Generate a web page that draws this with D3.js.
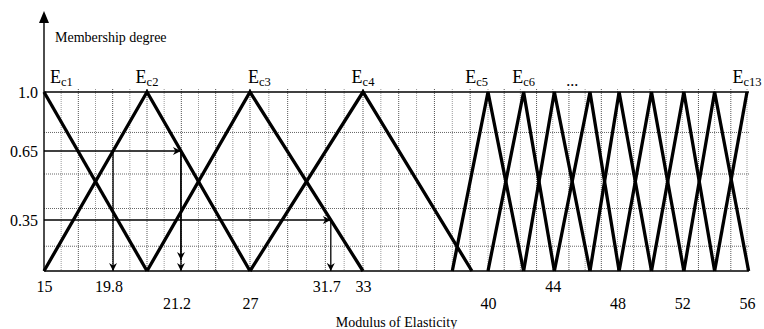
<!DOCTYPE html>
<html>
<head>
<meta charset="utf-8">
<script src="https://cdn.jsdelivr.net/npm/d3@7"></script>
<style>
  body { margin: 0; background: #fff; }
</style>
</head>
<body>
<svg></svg>
<script>
const width = 764;
const height = 329;
const serif = 'Liberation Serif, Times New Roman, Times, serif';

// membership functions E_c1 .. E_c13 (peak and feet, modulus values)
const names = ['c1', 'c2', 'c3', 'c4', 'c5', 'c6', 'c7', 'c8', 'c9', 'c10', 'c11', 'c12', 'c13'];
const peaks = [15, 21, 27, 33, 40, 42.2, 44.1, 46.3, 48.1, 50.1, 52.1, 54, 56];
const leftFeet = [null, 15, 21, 27, 38, 40, 42.2, 44.1, 46.3, 48.1, 50.1, 52.1, 54];
const rightFeet = [21, 27, 33, 39.1, 42.2, 44.1, 46.3, 48.1, 50.1, 52.1, 54, 56.1, null];
const shownNames = ['c1', 'c2', 'c3', 'c4', 'c5', 'c6', 'c13'];

const xTicksTop = [15, 33, 44];
const xTicksBottom = [27, 40, 48, 52, 56];
const yTicks = [1.0, 0.65, 0.35];
const gridLevels = [0.17, 0.4, 0.55, 0.76];
const gridValues = d3.range(16, 57);

// reading arrows: membership level, function index, edge that is hit
const readings = [
  {level: 0.65, fn: 1, edge: 'up', label: '19.8', row: 0, heads: 1},
  {level: 0.65, fn: 1, edge: 'down', label: '21.2', row: 1, heads: 2},
  {level: 0.35, fn: 2, edge: 'down', label: '31.7', row: 0, heads: 1}
];

// schematic axes, not evenly spaced in the original
const x = d3.scaleLinear()
  .domain([15, 21, 27, 33, 40, 56])
  .range([44, 147, 250, 363, 488, 747]);

const y = d3.scaleLinear()
  .domain([0, 0.35, 0.65, 1])
  .range([271, 220, 151, 92]);

const right = x(56) + 2;

const labelLayout = {c1: ['start', 6], c3: ['start', -2], c5: ['end', 0]};

const svg = d3.select('svg')
  .attr('width', width)
  .attr('height', height)
  .attr('font-family', serif)
  .style('font-family', serif);

const defs = svg.append('defs');
defs.append('marker')
  .attr('id', 'head')
  .attr('viewBox', '0 0 10 10')
  .attr('refX', 10)
  .attr('refY', 5)
  .attr('markerWidth', 9)
  .attr('markerHeight', 8)
  .attr('markerUnits', 'userSpaceOnUse')
  .attr('orient', 'auto')
  .append('path')
  .attr('d', 'M0,0L10,5L0,10L3,5Z')
  .attr('fill', '#000');

// grid
svg.append('g')
  .selectAll('line')
  .data(gridValues)
  .enter()
  .append('line')
  .attr('x1', d => x(d))
  .attr('x2', d => x(d))
  .attr('y1', y(1) - 3)
  .attr('y2', y(0))
  .attr('stroke', (d, i) => i % 2 ? '#555' : '#999')
  .attr('stroke-width', 1)
  .attr('stroke-dasharray', '1,1');

svg.append('g')
  .selectAll('line')
  .data(gridLevels)
  .enter()
  .append('line')
  .attr('x1', x(15))
  .attr('x2', right)
  .attr('y1', d => y(d))
  .attr('y2', d => y(d))
  .attr('stroke', '#666')
  .attr('stroke-width', 1)
  .attr('stroke-dasharray', '1,1');

// top and bottom frame lines
svg.append('g')
  .selectAll('line')
  .data([0, 1])
  .enter()
  .append('line')
  .attr('x1', x(15))
  .attr('x2', right)
  .attr('y1', d => y(d))
  .attr('y2', d => y(d))
  .attr('stroke', '#000')
  .attr('stroke-width', 1.6);

// y axis with arrow
svg.append('line')
  .attr('x1', x(15)).attr('x2', x(15))
  .attr('y1', y(0)).attr('y2', 20)
  .attr('stroke', '#000')
  .attr('stroke-width', 1.4);
svg.append('path')
  .attr('d', `M${x(15)},11L${x(15) + 5},23L${x(15) - 5},23Z`)
  .attr('fill', '#000');

// triangles
const line = d3.line()
  .x(d => x(d[0]))
  .y(d => y(d[1]));

const shapes = peaks.map((p, i) => {
  const pts = [];
  if (leftFeet[i] != null) pts.push([leftFeet[i], 0]);
  pts.push([p, 1]);
  if (rightFeet[i] != null) pts.push([rightFeet[i], 0]);
  return pts;
});

svg.append('g')
  .selectAll('path')
  .data(shapes)
  .enter()
  .append('path')
  .attr('d', line)
  .attr('fill', 'none')
  .attr('stroke', '#000')
  .attr('stroke-width', 3.3);

// reading arrows
function crossing(r) {
  const i = r.fn;
  const a = r.edge === 'up' ? [leftFeet[i], 0] : [peaks[i], 1];
  const b = r.edge === 'up' ? [peaks[i], 1] : [rightFeet[i], 0];
  const t = (y(r.level) - y(a[1])) / (y(b[1]) - y(a[1]));
  return x(a[0]) + (x(b[0]) - x(a[0])) * t;
}
readings.forEach(r => r.px = crossing(r));

const levels = Array.from(d3.group(readings, r => r.level), ([level, rs]) => ({level, end: d3.max(rs, r => r.px)}));

const arrows = svg.append('g')
  .attr('stroke', '#000')
  .attr('stroke-width', 1.3);

arrows.selectAll('line.h')
  .data(levels)
  .enter()
  .append('line')
  .attr('class', 'h')
  .attr('x1', x(15))
  .attr('x2', d => d.end)
  .attr('y1', d => y(d.level))
  .attr('y2', d => y(d.level))
  .attr('marker-end', 'url(#head)');

arrows.selectAll('line.v')
  .data(readings)
  .enter()
  .append('line')
  .attr('class', 'v')
  .attr('x1', d => d.px)
  .attr('x2', d => d.px)
  .attr('y1', d => y(d.level))
  .attr('y2', y(0))
  .attr('marker-end', 'url(#head)');

arrows.selectAll('line.v2')
  .data(readings.filter(d => d.heads > 1))
  .enter()
  .append('line')
  .attr('class', 'v2')
  .attr('x1', d => d.px)
  .attr('x2', d => d.px)
  .attr('y1', d => y(d.level))
  .attr('y2', y(0) - 11)
  .attr('marker-end', 'url(#head)');

// x tick labels, two rows
const rowPad = [10, 27];

[xTicksTop, xTicksBottom].forEach((ticks, row) => {
  svg.append('g')
    .attr('transform', `translate(0,${y(0)})`)
    .call(d3.axisBottom(x).tickValues(ticks).tickSize(0).tickPadding(rowPad[row]).tickFormat(d3.format('d')))
    .attr('font-family', serif)
    .attr('font-size', 16)
    .call(g => g.select('.domain').remove());
});

svg.append('g')
  .selectAll('text')
  .data(readings)
  .enter()
  .append('text')
  .attr('x', d => d.px - 4)
  .attr('y', d => y(0) + rowPad[d.row] + 11.3)
  .attr('text-anchor', 'middle')
  .attr('font-size', 16)
  .text(d => d.label);

// y tick labels
svg.append('g')
  .attr('transform', `translate(${x(15)},0)`)
  .call(d3.axisLeft(y).tickValues(yTicks).tickSize(0).tickPadding(6).tickFormat(d => d === 1 ? '1.0' : String(d)))
  .attr('font-family', serif)
  .attr('font-size', 16)
  .call(g => g.select('.domain').remove());

// function names
const nameText = svg.append('g')
  .selectAll('text')
  .data(shownNames)
  .enter()
  .append('text')
  .attr('x', d => x(peaks[names.indexOf(d)]) + (labelLayout[d] ? labelLayout[d][1] : 0))
  .attr('y', 83)
  .attr('text-anchor', d => labelLayout[d] ? labelLayout[d][0] : 'middle');
nameText.append('tspan').attr('font-size', 18).text('E');
nameText.append('tspan').attr('font-size', 12.5).attr('dy', 3).text(d => d);

svg.append('text')
  .attr('x', (x(peaks[6]) + x(peaks[7])) / 2)
  .attr('y', 86)
  .attr('text-anchor', 'middle')
  .attr('font-size', 16)
  .text('...');

// axis titles
svg.append('text')
  .attr('x', 55)
  .attr('y', 42)
  .attr('font-size', 14)
  .text('Membership degree');

svg.append('text')
  .attr('x', (x(15) + right) / 2)
  .attr('y', 327)
  .attr('text-anchor', 'middle')
  .attr('font-size', 14)
  .text('Modulus of Elasticity');
</script>
</body>
</html>
